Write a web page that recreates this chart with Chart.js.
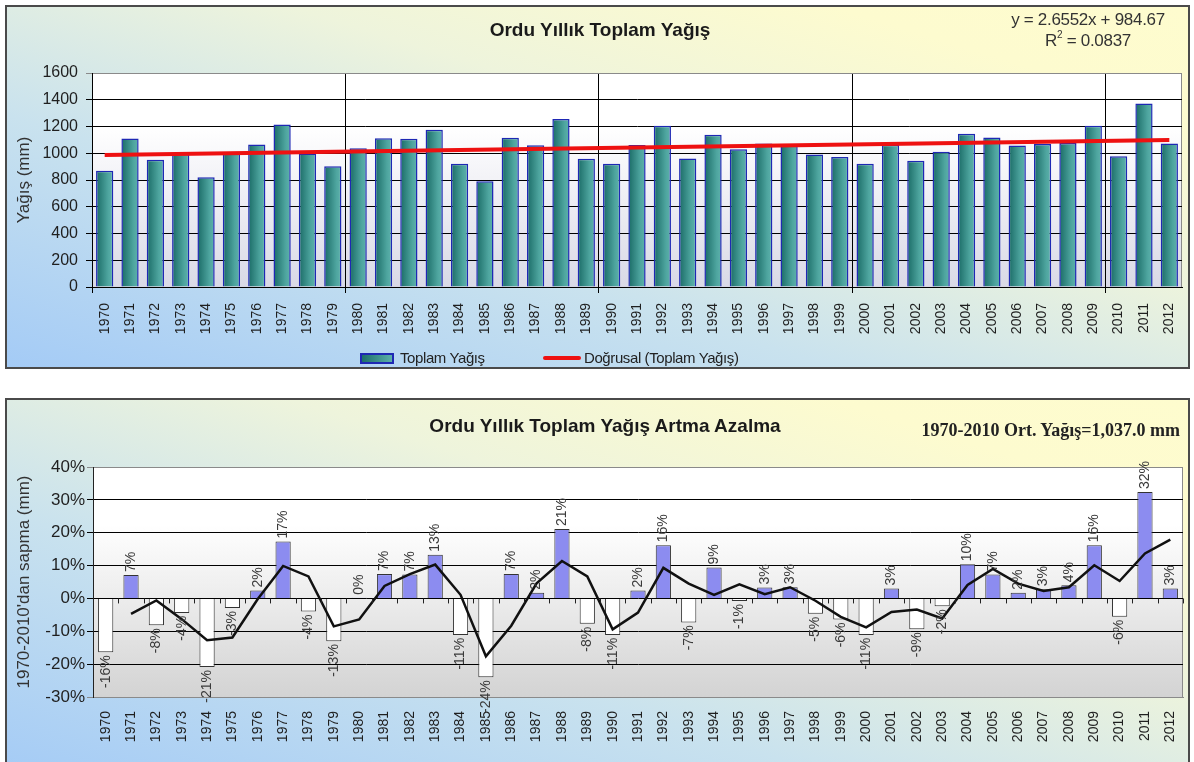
<!DOCTYPE html>
<html lang="tr">
  <head>
    <meta charset="UTF-8" />
    <title>Ordu Yıllık Toplam Yağış</title>
    <script src="https://cdn.jsdelivr.net/npm/chart.js"></script>
    <style>
      html, body { margin: 0; padding: 0; background: #fff; }
      body { width: 1194px; height: 762px; overflow: hidden; position: relative;
             font-family: "Liberation Sans", Arial, sans-serif; color: #1a1a1a; }
      .box { position: absolute; left: 5px; width: 1185px; box-sizing: border-box;
             border: 2px solid #4a4a4a;
             background: linear-gradient(to top right, #a4cbf6 0%, #c9e2ee 35%, #eef4dc 62%, #fdfbcf 85%, #fefcce 100%); }
      #box1 { top: 5px; height: 364px; }
      #box2 { top: 398px; height: 380px; }
      .box canvas { position: absolute; left: 0; top: 0; }
      .title { position: absolute; font-weight: bold; font-size: 19px; line-height: 22px;
               text-align: center; white-space: nowrap; }
      .eq { position: absolute; left: 988px; top: 9px; width: 200px; text-align: center;
            font-size: 17px; line-height: 21px; color: #333; letter-spacing: -0.3px; }
      .eq sup { font-size: 10px; line-height: 0; position: relative; top: -1px; }
      .avg { position: absolute; right: 14px; top: 419px; font-family: "Liberation Serif", "Times New Roman", serif;
             font-weight: bold; font-size: 18px; line-height: 22px; color: #222; white-space: nowrap; }
      .legend { position: absolute; top: 349px; height: 18px; font-size: 15px; line-height: 18px;
                color: #222; white-space: nowrap; letter-spacing: -0.4px; }
      .sw-bar { position: absolute; left: 360px; top: 353px; width: 30px; height: 7px;
                border: 2px solid #1e28b4; background: linear-gradient(to right, #1c6f6a, #5cb0aa); }
      .sw-line { position: absolute; left: 543px; top: 356px; width: 38px; height: 4px; background: #ee1111; border-radius: 2px; }
    </style>
  </head>
  <body>
    <div class="box" id="box1"><canvas id="rainChart" width="1181" height="360"></canvas></div>
    <div class="box" id="box2"><canvas id="devChart" width="1181" height="376"></canvas></div>

    <div class="title" style="left:0; width:1200px; top:19px;">Ordu Yıllık Toplam Yağış</div>
    <div class="eq">y = 2.6552x + 984.67<br />R<sup>2</sup> = 0.0837</div>
    <div class="sw-bar"></div>
    <div class="legend" style="left:400px;">Toplam Yağış</div>
    <div class="sw-line"></div>
    <div class="legend" style="left:584px;">Doğrusal (Toplam Yağış)</div>

    <div class="title" style="left:0; width:1210px; top:415px;">Ordu Yıllık Toplam Yağış Artma Azalma</div>
    <div class="avg">1970-2010 Ort. Yağış=1,037.0 mm</div>

    <script>
      // yillar
      const years = [
        "1970", "1971", "1972", "1973", "1974", "1975", "1976", "1977", "1978", "1979",
        "1980", "1981", "1982", "1983", "1984", "1985", "1986", "1987", "1988", "1989",
        "1990", "1991", "1992", "1993", "1994", "1995", "1996", "1997", "1998", "1999",
        "2000", "2001", "2002", "2003", "2004", "2005", "2006", "2007", "2008", "2009",
        "2010", "2011", "2012",
      ];

      // toplam yagis (mm)
      const totalRain = [
        870, 1110, 952, 995, 820, 1000, 1065, 1215, 998, 902,
        1038, 1113, 1109, 1176, 921, 790, 1115, 1060, 1256, 959,
        921, 1062, 1205, 960, 1138, 1030, 1072, 1068, 990, 972,
        921, 1063, 943, 1012, 1145, 1117, 1058, 1069, 1076, 1205,
        977, 1372, 1072,
      ];

      // dogrusal egilim: ilk ve son yil degeri
      const trendStart = 987.3;
      const trendEnd = 1098.8;

      // 1970-2010 ortalamasindan sapma (%)
      const deviation = [
        -16.4, 7.1, -8.2, -4.4, -20.9, -2.9, 2.4, 17.3, -4.0, -13.0,
        0.2, 7.4, 7.3, 13.3, -11.1, -24.0, 7.4, 1.7, 21.1, -7.7,
        -11.1, 2.4, 16.2, -7.3, 9.4, -0.8, 3.3, 3.4, -4.7, -6.4,
        -11.1, 3.0, -9.4, -2.4, 10.4, 7.3, 1.7, 2.8, 4.0, 16.2,
        -5.6, 32.4, 3.0,
      ];

      // 2 yillik hareketli ortalama (%)
      const movingAvg = [
        null, -4.7, -0.6, -6.3, -12.7, -11.9, -0.2, 9.9, 6.7, -8.5,
        -6.4, 3.8, 7.4, 10.3, 1.1, -17.6, -8.3, 4.6, 11.4, 6.7,
        -9.4, -4.3, 9.3, 4.5, 1.1, 4.3, 1.3, 3.4, -0.7, -5.6,
        -8.8, -4.1, -3.4, -6.1, 4.1, 9.0, 4.5, 2.3, 3.4, 10.1,
        5.3, 13.7, 17.9,
      ];

      Chart.defaults.font.family = '"Liberation Sans", Arial, sans-serif';
      Chart.defaults.color = "#1f1f1f";
      Chart.defaults.animation = false;

      const trendData = years.map((y, i) =>
        i === 0 ? trendStart : i === years.length - 1 ? trendEnd : null
      );

      // arka plan ve cizim alani cercevesi
      const plotBg = {
        id: "plotBg",
        beforeDraw(chart, args, opts) {
          const { ctx, chartArea: a } = chart;
          const g = ctx.createLinearGradient(0, a.top, 0, a.bottom);
          g.addColorStop(0, opts.top);
          g.addColorStop(0.25, opts.top);
          g.addColorStop(1, opts.bottom);
          ctx.save();
          ctx.fillStyle = g;
          ctx.fillRect(a.left, a.top, a.width, a.height);
          ctx.strokeStyle = opts.border;
          ctx.lineWidth = 1;
          ctx.strokeRect(a.left + 0.5, a.top + 0.5, a.width - 1, a.height);
          ctx.restore();
        },
      };

      function barGradient(ctx) {
        const el = ctx.element;
        if (!el || !isFinite(el.x) || !isFinite(el.width)) return "#3a938d";
        const g = ctx.chart.ctx.createLinearGradient(el.x - el.width / 2, 0, el.x + el.width / 2, 0);
        g.addColorStop(0, "#1a6b66");
        g.addColorStop(0.7, "#4ea59f");
        g.addColorStop(1, "#5fb2ac");
        return g;
      }

      const rainChart = new Chart(document.getElementById("rainChart"), {
        type: "bar",
        data: {
          labels: years,
          datasets: [
            {
              label: "Doğrusal (Toplam Yağış)",
              type: "line",
              data: trendData,
              spanGaps: true,
              borderColor: "#ee1111",
              borderWidth: 4,
              pointRadius: 0,
              order: 0,
            },
            {
              label: "Toplam Yağış",
              data: totalRain,
              backgroundColor: barGradient,
              borderColor: "#1e28b4",
              borderWidth: 1.5,
              barPercentage: 0.68,
              categoryPercentage: 1,
              order: 1,
            },
          ],
        },
        options: {
          responsive: false,
          layout: { padding: { left: 0, right: 6, top: 66, bottom: 0 } },
          plugins: {
            legend: { display: false },
            tooltip: { enabled: false },
            plotBg: { top: "#ffffff", bottom: "#d9d9e6", border: "#8a8a8a" },
          },
          scales: {
            x: {
              offset: true,
              grid: {
                offset: true,
                color: (c) => (c.index % 10 === 0 ? "#000" : "rgba(0,0,0,0)"),
                lineWidth: 1,
                tickLength: 6,
              },
              border: { color: "#000", width: 1 },
              ticks: { autoSkip: false, minRotation: 90, maxRotation: 90, padding: 10, font: { size: 14 } },
              afterFit: (s) => { s.height = 80; s.paddingLeft = 0; s.paddingRight = 0; },
            },
            y: {
              min: 0,
              max: 1600,
              ticks: { stepSize: 200, padding: 8, font: { size: 16 }, callback: (v) => String(v) },
              grid: { color: (c) => (c.tick && c.tick.value === 1600 ? "#8a8a8a" : "#000"), tickLength: 6 },
              border: { color: "#000", width: 1 },
              title: { display: true, text: "Yağış (mm)", font: { size: 17 }, color: "#333", padding: { top: 7, bottom: 0 } },
              afterFit: (s) => { s.width = 85; s.paddingTop = 0; s.paddingBottom = 0; },
            },
          },
        },
        plugins: [plotBg],
      });
      rainChart.update("none");

      // sifir cizgisi uzerindeki kisa isaretler ve yuzde etiketleri
      const devMarks = {
        id: "devMarks",
        afterDatasetsDraw(chart) {
          const { ctx, chartArea: a, scales } = chart;
          const y0 = scales.y.getPixelForValue(0);
          const n = years.length;
          const cw = a.width / n;
          ctx.save();
          ctx.strokeStyle = "#222";
          ctx.lineWidth = 1;
          ctx.beginPath();
          for (let i = 0; i <= n; i++) {
            const x = Math.round(a.left + i * cw) + 0.5;
            ctx.moveTo(x, y0);
            ctx.lineTo(x, y0 + 5);
          }
          ctx.stroke();

          const meta = chart.getDatasetMeta(1);
          ctx.fillStyle = "#3a3a3a";
          ctx.font = '14px "Liberation Sans", Arial, sans-serif';
          ctx.textBaseline = "middle";
          meta.data.forEach((el, i) => {
            const v = deviation[i];
            const txt = Math.round(v) + "%";
            ctx.save();
            ctx.translate(el.x, v >= 0 ? el.y - 3 : el.y + 3);
            ctx.rotate(-Math.PI / 2);
            ctx.textAlign = v >= 0 ? "left" : "right";
            ctx.fillText(txt, 0, 0);
            ctx.restore();
          });
          ctx.restore();
        },
      };

      new Chart(document.getElementById("devChart"), {
        type: "bar",
        data: {
          labels: years,
          datasets: [
            {
              label: "2 per. hareketli ort.",
              type: "line",
              data: movingAvg,
              borderColor: "#111",
              borderWidth: 2.5,
              pointRadius: 0,
              tension: 0,
              order: 0,
            },
            {
              label: "Sapma",
              data: deviation,
              backgroundColor: deviation.map((v) => (v >= 0 ? "#8c8cf0" : "#ffffff")),
              borderColor: "#333",
              borderWidth: 1,
              barPercentage: 0.6,
              categoryPercentage: 1,
              order: 1,
            },
          ],
        },
        options: {
          responsive: false,
          layout: { padding: { left: 0, right: 5, top: 67, bottom: 0 } },
          plugins: {
            legend: { display: false },
            tooltip: { enabled: false },
            plotBg: { top: "#ffffff", bottom: "#d3d3d3", border: "#8a8a8a" },
          },
          scales: {
            x: {
              offset: true,
              grid: { display: false, drawTicks: false },
              border: { color: "#8a8a8a", width: 1 },
              ticks: { autoSkip: false, minRotation: 90, maxRotation: 90, padding: 14, font: { size: 14 } },
              afterFit: (s) => { s.height = 79; s.paddingLeft = 0; s.paddingRight = 0; },
            },
            y: {
              min: -30,
              max: 40,
              ticks: { stepSize: 10, padding: 2, font: { size: 17 }, callback: (v) => v + "%" },
              grid: {
                color: (c) => (c.tick && (c.tick.value === 40 || c.tick.value === -30) ? "#8a8a8a" : "#000"),
                tickLength: 6,
              },
              border: { color: "#222", width: 1 },
              title: { display: true, text: "1970-2010'dan sapma (mm)", font: { size: 17 }, color: "#333", padding: { top: 7, bottom: 0 } },
              afterFit: (s) => { s.width = 86; s.paddingTop = 0; s.paddingBottom = 0; },
            },
          },
        },
        plugins: [plotBg, devMarks],
      });
    </script>
  </body>
</html>
